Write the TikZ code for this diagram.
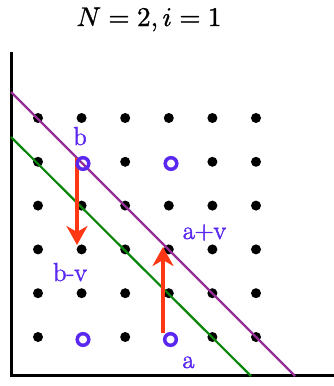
\documentclass[tikz,border=0pt]{standalone}
\usepackage{unicode-math}
\setmathfont{Latin Modern Math}[FakeBold=1.2]
\newfontface\lblfont{Latin Modern Roman}[FakeBold=2]
\usetikzlibrary{arrows.meta}
\definecolor{lpurple}{RGB}{150,45,150}
\definecolor{lgreen}{RGB}{10,135,10}
\definecolor{lblue}{RGB}{90,40,240}
\definecolor{lred}{RGB}{255,55,20}
\tikzset{
  dot/.style={fill=black},
  hollow/.style={draw=lblue,line width=3.5pt},
  lbl/.style={text=lblue,font=\lblfont\fontsize{26}{31}\selectfont,inner sep=0pt,anchor=base},
  vecarrow/.style={draw=lred,line width=4pt,-{Stealth[length=19pt,width=21pt,inset=6pt]}},
  axis/.style={draw=black,line width=3pt,line join=miter},
}
\begin{document}
\begin{tikzpicture}[x=1pt,y=-1pt]
\useasboundingbox (0,0) rectangle (334,386);
\node[anchor=base,inner sep=0pt,font=\fontsize{27}{32}\selectfont] (title) at (149,26) {$N=2, i=1$};
% axes
\coordinate (ytop) at (11,52);
\coordinate (orig) at (11,375.5);
\coordinate (xend) at (334,375.5);
\draw[axis] (ytop) -- (orig) -- (xend);
% dots
\foreach \c in {0,...,5}{
  \foreach \r in {0,...,5}{
    \pgfmathtruncatemacro{\skipme}{(\r==1 || \r==5) && (\c==1 || \c==3) ? 1 : 0}
    \ifnum\skipme=0
      \fill[dot] ({38+43.6*\c},{118+43.8*\r}) circle (5pt);
    \fi
  }
}
% lines
\coordinate (p1) at (11,92);
\coordinate (p2) at (295,376);
\coordinate (g1) at (11,137);
\coordinate (g2) at (251,376);
\draw[lpurple,line width=2.2pt] (p1) -- (p2);
\draw[lgreen,line width=2.2pt] (g1) -- (g2);
% arrows
\coordinate (bS) at (77,158);
\coordinate (bT) at (77,245);
\coordinate (aS) at (163,333);
\coordinate (aT) at (163,247);
\draw[vecarrow] (bS) -- (bT);
\draw[vecarrow] (aS) -- (aT);
% hollow circles
\draw[hollow] (83,163.5) circle (5.8pt);
\draw[hollow] (171,163.5) circle (5.8pt);
\draw[hollow] (83,339.5) circle (5.8pt);
\draw[hollow] (170.5,339.5) circle (5.8pt);
% labels
\node[lbl] (lb) at (80,145) {b};
\node[lbl] (lav) at (204.5,239) {a+v};
\node[lbl] (lbv) at (70,281) {b-v};
\node[lbl] (la) at (188.5,368) {a};
\end{tikzpicture}
\end{document}
